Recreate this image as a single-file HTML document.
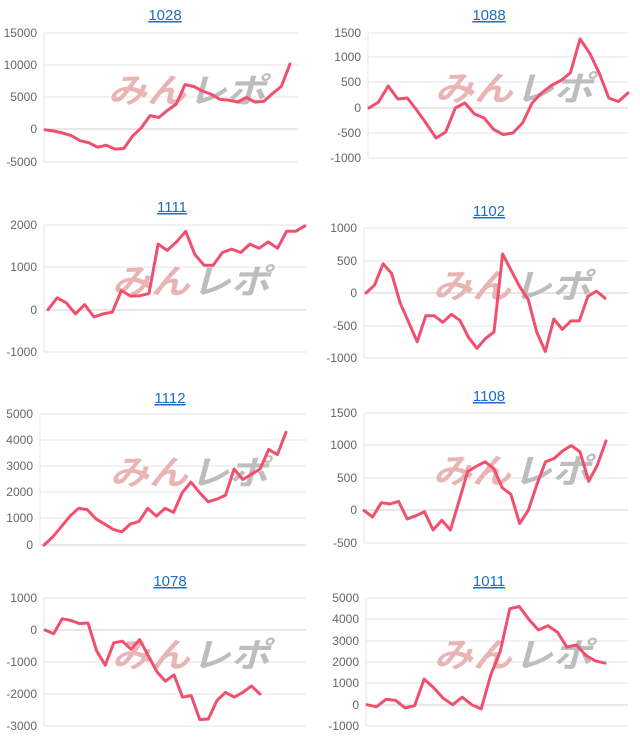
<!DOCTYPE html>
<html><head><meta charset="utf-8">
<style>
html,body{margin:0;padding:0;background:#fff;}
svg{display:block;}
</style></head>
<body>
<svg id="s" width="640" height="748" xmlns="http://www.w3.org/2000/svg"></svg>
<script>
var charts=[
{t:"1028",tx:165,ty:20,x0:44,x1:298,ds:45,de:290,ticks:[[15000,33],[10000,65],[5000,97],[0,129],[-5000,162]],
d:[0,-200,-500,-900,-1700,-2000,-2700,-2400,-3000,-2900,-1000,300,2200,1900,3000,4000,7000,6700,6000,5500,4700,4600,4300,5000,4300,4400,5600,6700,10200]},
{t:"1088",tx:489,ty:20,x0:368,x1:628,ds:369,de:628,ticks:[[1500,33],[1000,57],[500,82],[0,108],[-500,133],[-1000,158]],
d:[0,120,440,180,200,-50,-320,-600,-480,0,100,-120,-200,-430,-530,-500,-300,100,300,450,550,700,1380,1100,700,200,130,300]},
{t:"1111",tx:172,ty:212,x0:44,x1:306,ds:48,de:305,ticks:[[2000,225],[1000,267],[0,310],[-1000,352]],
d:[0,280,160,-100,120,-170,-100,-60,450,320,330,380,1550,1400,1600,1850,1300,1050,1050,1350,1430,1350,1550,1450,1600,1450,1850,1850,1980]},
{t:"1102",tx:489,ty:216,x0:364,x1:628,ds:366,de:605,ticks:[[1000,228],[500,261],[0,293],[-500,326],[-1000,358]],
d:[0,120,450,300,-150,-450,-750,-350,-350,-450,-330,-420,-680,-850,-700,-600,600,350,100,-100,-600,-900,-400,-560,-430,-430,-50,30,-80]},
{t:"1112",tx:170,ty:403,x0:40,x1:306,ds:44,de:286,ticks:[[5000,414],[4000,440],[3000,466],[2000,492],[1000,518],[0,545]],
d:[0,300,700,1100,1400,1350,1000,800,600,500,800,900,1400,1100,1400,1250,2000,2400,2000,1650,1750,1900,2900,2500,2700,2900,3650,3450,4300]},
{t:"1108",tx:489,ty:401,x0:364,x1:628,ds:364,de:606,ticks:[[1500,413],[1000,445],[500,478],[0,510],[-500,543]],
d:[0,-100,120,100,140,-130,-80,-20,-300,-150,-300,150,600,680,750,650,350,250,-200,0,400,750,800,920,1000,900,450,700,1070]},
{t:"1078",tx:170,ty:586,x0:44,x1:306,ds:45,de:260,ticks:[[1000,598],[0,630],[-1000,662],[-2000,694],[-3000,726]],
d:[0,-120,350,300,200,220,-650,-1100,-400,-350,-600,-300,-800,-1300,-1600,-1400,-2100,-2050,-2800,-2780,-2200,-1950,-2100,-1950,-1750,-2000]},
{t:"1011",tx:489,ty:586,x0:366,x1:628,ds:367,de:605,ticks:[[5000,598],[4000,619],[3000,641],[2000,662],[1000,683],[0,705],[-1000,726]],
d:[0,-100,250,200,-150,-50,1200,800,300,0,350,0,-200,1400,2500,4500,4600,4000,3500,3700,3400,2700,2800,2300,2050,1950]}
];
var h="";
charts.forEach(function(c){
  var a=c.ticks[0],b=c.ticks[c.ticks.length-1];
  var sc=(b[1]-a[1])/(b[0]-a[0]);
  function Y(v){return a[1]+(v-a[0])*sc;}
  h+='<text x="'+c.tx+'" y="'+c.ty+'" text-anchor="middle" font-family="Liberation Sans, sans-serif" font-size="15" fill="#1a6fc9" text-decoration="underline">'+c.t+'</text>';
  c.ticks.forEach(function(t){
    h+='<line x1="'+c.x0+'" y1="'+t[1]+'" x2="'+c.x1+'" y2="'+t[1]+'" stroke="'+(t[0]==0?'#cfcfcf':'#e6e6e6')+'" stroke-width="1"/>';
    h+='<text x="'+(c.x0-7)+'" y="'+(t[1]+4)+'" text-anchor="end" font-family="Liberation Sans, sans-serif" font-size="12" fill="#666">'+t[0]+'</text>';
  });
  h+='<line x1="'+c.x0+'" y1="'+c.ticks[0][1]+'" x2="'+c.x0+'" y2="'+b[1]+'" stroke="#e6e6e6"/>';
  var cx=(c.x0+c.x1)/2+15, cy=(a[1]+b[1])/2+5;
  h+='<g transform="translate('+(cx-78)+','+cy+') skewX(-15)" font-family="Liberation Sans, Noto Sans CJK JP, sans-serif" font-weight="bold" font-size="34">'+
     '<text x="0" y="0" fill="#e9b4b4" textLength="78" lengthAdjust="spacingAndGlyphs">みん</text>'+
     '<text x="80" y="0" fill="#bdbdbd" textLength="78" lengthAdjust="spacingAndGlyphs">レポ</text></g>';
  var n=c.d.length, st=(c.de-c.ds)/(n-1), p=[];
  c.d.forEach(function(v,i){p.push((c.ds+i*st).toFixed(1)+','+Y(v).toFixed(1));});
  h+='<polyline points="'+p.join(' ')+'" fill="none" stroke="#f0506e" stroke-width="3" stroke-linejoin="round" stroke-linecap="round"/>';
});
document.getElementById("s").innerHTML=h;
</script>
</body></html>
